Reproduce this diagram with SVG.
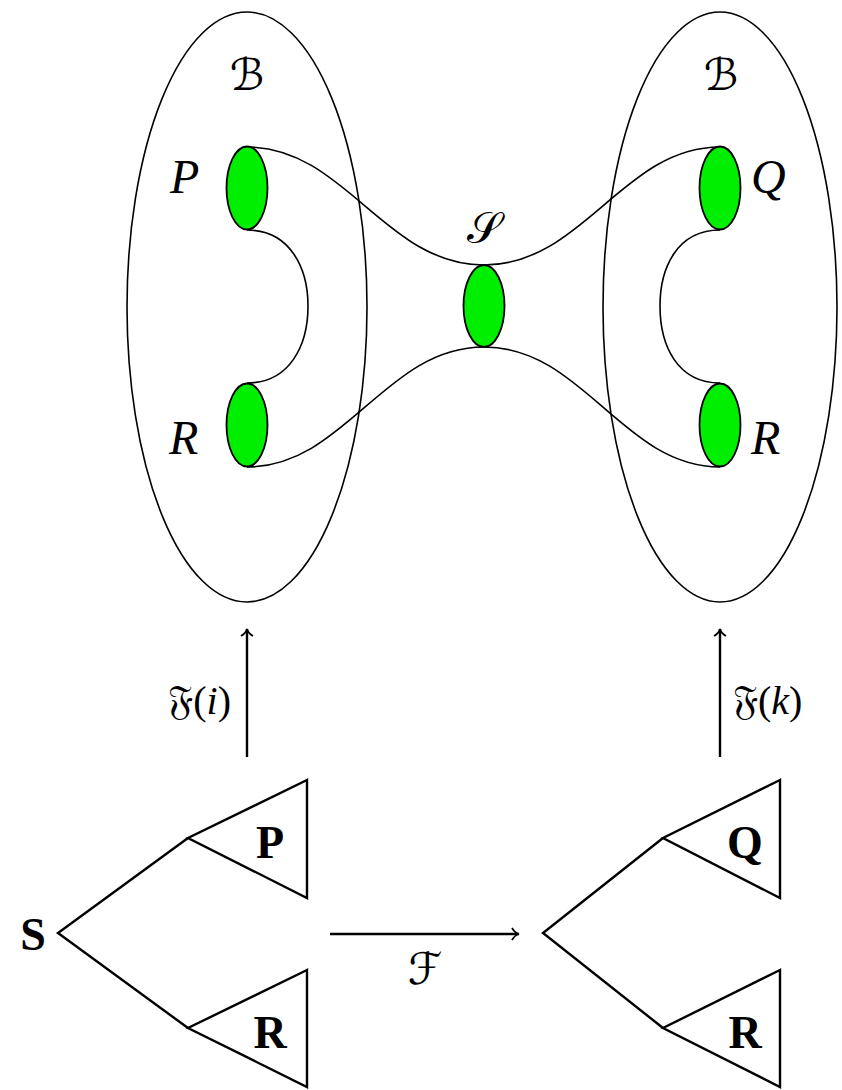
<svg xmlns="http://www.w3.org/2000/svg" width="842" height="1090" viewBox="0 0 842 1090">
<style>
.ln{fill:none;stroke:#000;stroke-width:1.6}
.tl{fill:none;stroke:#000;stroke-width:2.4;stroke-linejoin:miter}
.g{fill:#00ee00;stroke:#000;stroke-width:1.8}
.it{font-family:"Liberation Serif",serif;font-style:italic;font-size:48px;fill:#000}
.bd{font-family:"Liberation Serif",serif;font-weight:bold;font-size:46px;fill:#000}
.sc{font-family:"DejaVu Serif","DejaVu Sans","Liberation Serif",serif;font-size:44px;fill:#000}
.fr{font-family:"DejaVu Sans","DejaVu Serif","Liberation Serif",serif;font-size:40px;fill:#000}
.pa{font-family:"Liberation Serif",serif;font-size:40px}
.ar{fill:none;stroke:#000;stroke-width:2.4}
</style>
<defs>
<marker id="ah" markerWidth="16" markerHeight="16" refX="10" refY="8" orient="auto" markerUnits="userSpaceOnUse">
<path d="M3,2 Q6,7 10,8 Q6,9 3,14" fill="none" stroke="#000" stroke-width="1.8"/>
</marker>
</defs>
<g id="bubble-left">
<ellipse class="ln" cx="247" cy="307" rx="120" ry="295"/>
<text class="sc" x="247" y="90" text-anchor="middle" font-size="58" font-style="italic">ℬ</text>
</g>
<g id="bubble-right">
<ellipse class="ln" cx="720" cy="307" rx="117" ry="295"/>
<text class="sc" x="721" y="90" text-anchor="middle" font-size="58" font-style="italic">ℬ</text>
</g>
<g id="surfaces">
<path class="ln" d="M247,147 C345,147 385,265 484,265 C583,265 623,147 720,147"/>
<path class="ln" d="M247,467 C345,467 385,347 484,347 C583,347 623,467 720,467"/>
<path class="ln" d="M247,230 C290,230 308,268 308,306 C308,345 290,383 247,383"/>
<path class="ln" d="M720,230 C677,230 660,268 660,306 C660,345 677,383 720,383"/>
<text class="sc" x="484" y="243" text-anchor="middle">𝒮</text>
</g>
<g id="node-P">
<ellipse class="g" cx="247" cy="188" rx="20.5" ry="41.5"/>
<text class="it" x="170" y="193">P</text>
</g>
<g id="node-R-left">
<ellipse class="g" cx="247" cy="425" rx="20.5" ry="41.5"/>
<text class="it" x="169" y="454">R</text>
</g>
<g id="node-S-mid">
<ellipse class="g" cx="484" cy="306" rx="20.5" ry="41"/>
</g>
<g id="node-Q">
<ellipse class="g" cx="720" cy="188" rx="20.5" ry="41.5"/>
<text class="it" x="751" y="193">Q</text>
</g>
<g id="node-R-right">
<ellipse class="g" cx="720" cy="425" rx="20.5" ry="41.5"/>
<text class="it" x="751" y="454">R</text>
</g>
<g id="tree-left">
<path class="tl" d="M188,838 L58,933 L188,1028"/>
<path class="tl" d="M307,780 L188,838 L307,898 Z"/>
<path class="tl" d="M307,970 L188,1028 L307,1087 Z"/>
<text class="bd" x="33" y="950" text-anchor="middle">S</text>
<text class="bd" x="270" y="858" text-anchor="middle">P</text>
<text class="bd" x="270" y="1048" text-anchor="middle">R</text>
</g>
<g id="tree-right">
<path class="tl" d="M663,838 L543,933 L663,1028"/>
<path class="tl" d="M780,780 L663,838 L780,898 Z"/>
<path class="tl" d="M780,970 L663,1028 L780,1087 Z"/>
<text class="bd" x="745" y="858" text-anchor="middle">Q</text>
<text class="bd" x="745" y="1048" text-anchor="middle">R</text>
</g>
<g id="connectors">
<line class="ar" x1="247" y1="757" x2="247" y2="629" marker-end="url(#ah)"/>
<line class="ar" x1="720" y1="757" x2="720" y2="629" marker-end="url(#ah)"/>
<line class="ar" x1="330" y1="934" x2="519" y2="934" marker-end="url(#ah)"/>
<text class="fr" x="231" y="714" text-anchor="end">𝔉<tspan class="pa">(</tspan><tspan class="pa" font-style="italic">i</tspan><tspan class="pa">)</tspan></text>
<text class="fr" x="733" y="714">𝔉<tspan class="pa">(</tspan><tspan class="pa" font-style="italic">k</tspan><tspan class="pa">)</tspan></text>
<text class="sc" x="425" y="984" text-anchor="middle" font-size="56" font-style="italic">ℱ</text>
</g>
</svg>
